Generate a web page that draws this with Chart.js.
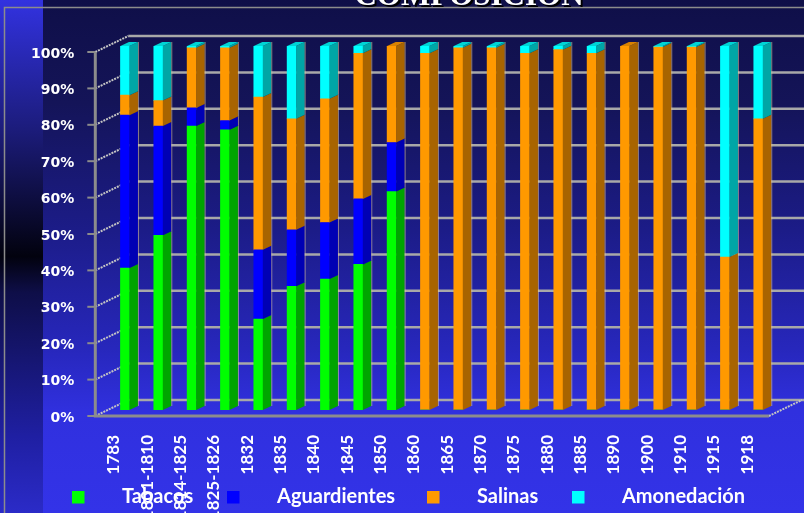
<!DOCTYPE html>
<html>
<head>
<meta charset="utf-8">
<script src="https://cdn.jsdelivr.net/npm/chart.js@4/dist/chart.umd.min.js"></script>
<style>
  html, body { margin: 0; padding: 0; }
  body {
    width: 804px; height: 513px; overflow: hidden;
    background:
      linear-gradient(to bottom, #3232e0 0%, #1c1c7c 25%, #02020e 50%, #0e0e48 57%, #1f1fa2 85%, #2b2bc8 100%) left top / 43px 100% no-repeat,
      linear-gradient(to bottom, #0f0f48 0%, #141458 20%, #1c1c88 45%, #2727bc 68%, #3030de 80%, #3333e8 100%);
  }
  canvas { display: block; }
</style>
</head>
<body>
<canvas id="chart" width="804" height="513"></canvas>
<script>
// Data (share of each item, %)
const periods = ['1783', '1801-1810', '1814-1825', '1825-1826', '1832', '1835', '1840', '1845', '1850', '1860',
                 '1865', '1870', '1875', '1880', '1885', '1890', '1900', '1910', '1915', '1918'];
const seriesNames = ['Tabacos', 'Aguardientes', 'Salinas', 'Amonedación'];
const tabacos      = [39, 48, 78, 77, 25, 34, 36, 40, 60, 0, 0, 0, 0, 0, 0, 0, 0, 0, 0, 0];
const aguardientes = [42, 30, 5, 2.5, 19, 15.5, 15.5, 18, 13.5, 0, 0, 0, 0, 0, 0, 0, 0, 0, 0, 0];
const salinas      = [5.5, 7, 16.5, 20, 42, 30.5, 34, 40, 26.5, 98, 99.5, 99.5, 98, 99, 98, 100, 99.7, 99.7, 42, 80];
const amonedacion  = [13.5, 15, 0.5, 0.5, 14, 20, 14.5, 2, 0, 2, 0.5, 0.5, 2, 1, 2, 0, 0.3, 0.3, 58, 20];
const yTicks = [0, 10, 20, 30, 40, 50, 60, 70, 80, 90, 100];

const frontColors = ['#00ff00', '#0000ff', '#ff9900', '#00ffff'];
const sideColors  = ['#00a400', '#0000b4', '#a86400', '#00a6a6'];
const topColors   = ['#00d000', '#0000d8', '#d88200', '#00d4d4'];

// 3D look: bar depth and wall offsets
const DX = 8.5, DY = 4;

const threeD = {
  id: 'threeD',
  beforeDraw(chart) {
    const ctx = chart.ctx;
    // outer frame
    ctx.save();
    ctx.strokeStyle = '#8c8c8c';
    ctx.lineWidth = 1.5;
    ctx.beginPath();
    ctx.moveTo(804, 7.5); ctx.lineTo(4.5, 7.5); ctx.lineTo(4.5, 513);
    ctx.stroke();
    ctx.restore();
  },
  beforeDatasetsDraw(chart) {
    const ctx = chart.ctx, ys = chart.scales.y, area = chart.chartArea;
    const fx = area.left - 13, bx = fx + 33;
    ctx.save();
    // back wall grid lines
    ctx.strokeStyle = '#a8a8a8';
    ctx.lineWidth = 2.5;
    yTicks.forEach(v => {
      const yb = ys.getPixelForValue(v) - 10;
      ctx.beginPath(); ctx.moveTo(bx, yb); ctx.lineTo(804, yb); ctx.stroke();
    });
    // side wall diagonals
    ctx.strokeStyle = '#c4c4c4';
    ctx.lineWidth = 2;
    ctx.setLineDash([2, 1]);
    yTicks.forEach(v => {
      const yf = ys.getPixelForValue(v) + 6;
      ctx.beginPath(); ctx.moveTo(fx, yf); ctx.lineTo(bx, yf - 16); ctx.stroke();
    });
    const yf0 = ys.getPixelForValue(0) + 6;
    ctx.beginPath(); ctx.moveTo(area.right - 6, yf0); ctx.lineTo(area.right + 27, yf0 - 16); ctx.stroke();
    ctx.setLineDash([]);
    // front axis, ticks and floor edge
    ctx.strokeStyle = '#8c8c8c';
    ctx.lineWidth = 3;
    ctx.beginPath();
    ctx.moveTo(fx, ys.getPixelForValue(100) + 6); ctx.lineTo(fx, yf0); ctx.lineTo(area.right - 6, yf0);
    ctx.stroke();
    ctx.lineWidth = 2;
    yTicks.forEach(v => {
      const yf = ys.getPixelForValue(v) + 6;
      ctx.beginPath(); ctx.moveTo(fx - 8, yf); ctx.lineTo(fx, yf); ctx.stroke();
    });
    ctx.restore();
  },
  afterDatasetsDraw(chart) {
    const ctx = chart.ctx;
    ctx.save();
    const tops = [];
    chart.data.datasets.forEach((ds, di) => {
      chart.getDatasetMeta(di).data.forEach((bar, i) => {
        const p = bar.getProps(['x', 'y', 'base', 'width'], true);
        if (Math.abs(p.base - p.y) < 0.1) return;
        const xr = p.x + p.width / 2;
        ctx.fillStyle = sideColors[di];
        ctx.beginPath();
        ctx.moveTo(xr, p.y); ctx.lineTo(xr + DX, p.y - DY);
        ctx.lineTo(xr + DX, p.base - DY); ctx.lineTo(xr, p.base);
        ctx.closePath(); ctx.fill();
        // thin light edge
        ctx.strokeStyle = 'rgba(235, 205, 160, 0.55)';
        ctx.lineWidth = 1;
        ctx.beginPath(); ctx.moveTo(xr + DX + 0.5, p.y - DY); ctx.lineTo(xr + DX + 0.5, p.base - DY); ctx.stroke();
        tops[i] = { p, di };
      });
    });
    // top faces
    tops.forEach(t => {
      if (!t) return;
      const { p, di } = t;
      const xl = p.x - p.width / 2, xr = p.x + p.width / 2;
      ctx.fillStyle = topColors[di];
      ctx.beginPath();
      ctx.moveTo(xl, p.y); ctx.lineTo(xl + DX, p.y - DY);
      ctx.lineTo(xr + DX, p.y - DY); ctx.lineTo(xr, p.y);
      ctx.closePath(); ctx.fill();
    });
    ctx.restore();
  },
  afterDraw(chart) {
    const ctx = chart.ctx;
    ctx.save();
    // title, mostly cut off at the top
    ctx.font = 'bold 31px "Liberation Serif"';
    ctx.textAlign = 'center';
    ctx.textBaseline = 'alphabetic';
    ctx.fillStyle = '#000';
    ctx.fillText('COMPOSICIÓN', 471, 7);
    ctx.fillStyle = '#fff';
    ctx.fillText('COMPOSICIÓN', 469, 5);
    // legend
    const boxX = [72, 227, 427, 572];
    ctx.font = 'bold 20px Lato';
    ctx.textAlign = 'left';
    seriesNames.forEach((name, i) => {
      ctx.fillStyle = frontColors[i];
      ctx.fillRect(boxX[i], 491, 12.5, 12.5);
      ctx.fillStyle = '#fff';
      ctx.fillText(name, boxX[i] + 50, 503);
    });
    ctx.restore();
  }
};

document.addEventListener('DOMContentLoaded', () => {
  const seriesData = [tabacos, aguardientes, salinas, amonedacion];
  const ctx = document.getElementById('chart').getContext('2d');

  new Chart(ctx, {
    type: 'bar',
    data: {
      labels: periods,
      datasets: seriesNames.map((name, i) => ({
        label: name,
        data: seriesData[i],
        backgroundColor: frontColors[i],
        borderWidth: 0,
        barThickness: 9
      }))
    },
    options: {
      responsive: false,
      animation: false,
      devicePixelRatio: 1,
      layout: { padding: { top: 46, right: 13, left: 0, bottom: 0 } },
      scales: {
        x: {
          stacked: true,
          grid: { display: false, drawTicks: false },
          border: { display: false },
          ticks: {
            autoSkip: false,
            minRotation: 90,
            maxRotation: 90,
            padding: 25,
            labelOffset: -11,
            color: '#fff',
            font: { family: 'Lato', weight: 'bold', size: 17 }
          },
          afterFit: scale => { scale.height = 103; }
        },
        y: {
          stacked: true,
          min: 0,
          max: 100,
          grid: { display: false, drawTicks: false },
          border: { display: false },
          ticks: {
            stepSize: 10,
            padding: 34,
            labelOffset: 8,
            color: '#fff',
            font: { family: 'DejaVu Sans', weight: 'bold', size: 14 },
            callback: v => v + '%'
          },
          afterFit: scale => { scale.width = 108.3; }
        }
      },
      plugins: {
        legend: { display: false },
        tooltip: { enabled: false }
      }
    },
    plugins: [threeD]
  });
});
</script>
</body>
</html>
